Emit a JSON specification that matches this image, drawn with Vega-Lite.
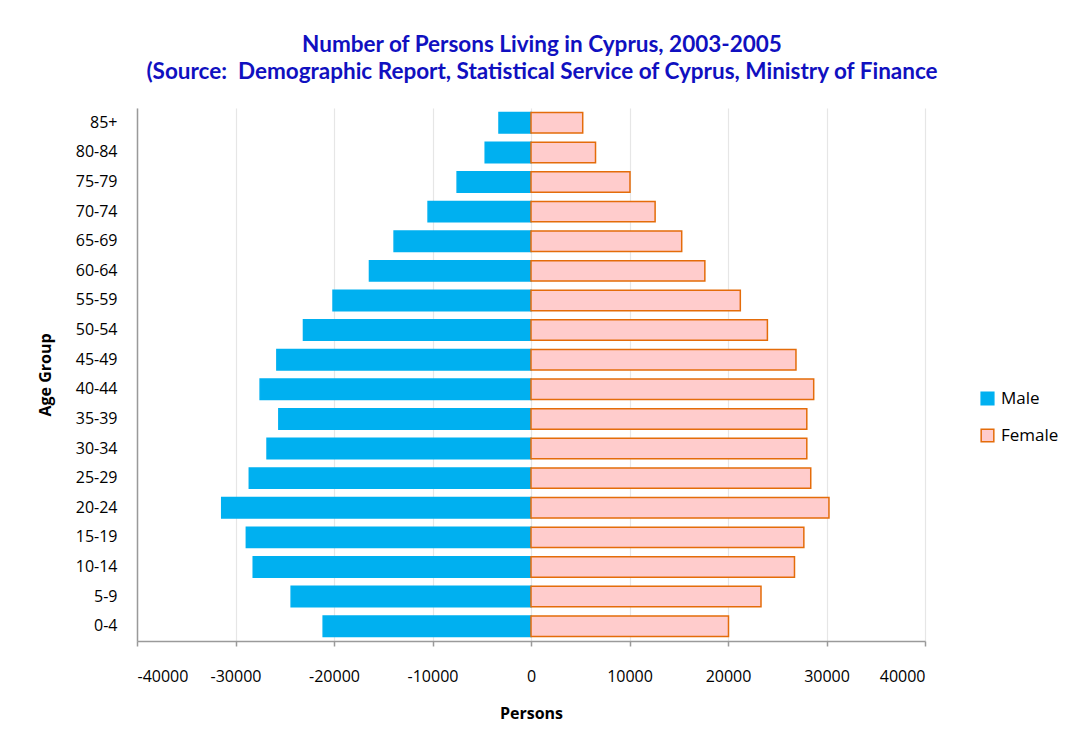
{
  "$schema": "https://vega.github.io/schema/vega-lite/v6.json",
  "autosize": {"type": "none"},
  "width": 788,
  "height": 533,
  "padding": {"left": 137, "top": 108, "right": 141, "bottom": 99},
  "background": "white",
  "title": {
    "text": ["Number of Persons Living in Cyprus, 2003-2005", "(Source:\u00a0\u00a0Demographic Report, Statistical Service of Cyprus, Ministry of Finance"],
    "font": "Lato",
    "fontSize": 22.5,
    "fontWeight": "bold",
    "color": "#1010C0",
    "anchor": "middle",
    "dx": 11,
    "lineHeight": 27,
    "offset": 25
  },
  "data": {
    "values": [
      {"age": "85+", "sex": "Male", "persons": -3250},
      {"age": "80-84", "sex": "Male", "persons": -4650},
      {"age": "75-79", "sex": "Male", "persons": -7500},
      {"age": "70-74", "sex": "Male", "persons": -10450},
      {"age": "65-69", "sex": "Male", "persons": -13900},
      {"age": "60-64", "sex": "Male", "persons": -16400},
      {"age": "55-59", "sex": "Male", "persons": -20100},
      {"age": "50-54", "sex": "Male", "persons": -23100},
      {"age": "45-49", "sex": "Male", "persons": -25800},
      {"age": "40-44", "sex": "Male", "persons": -27500},
      {"age": "35-39", "sex": "Male", "persons": -25600},
      {"age": "30-34", "sex": "Male", "persons": -26800},
      {"age": "25-29", "sex": "Male", "persons": -28600},
      {"age": "20-24", "sex": "Male", "persons": -31400},
      {"age": "15-19", "sex": "Male", "persons": -28900},
      {"age": "10-14", "sex": "Male", "persons": -28200},
      {"age": "5-9", "sex": "Male", "persons": -24350},
      {"age": "0-4", "sex": "Male", "persons": -21100},
      {"age": "85+", "sex": "Female", "persons": 5250},
      {"age": "80-84", "sex": "Female", "persons": 6550},
      {"age": "75-79", "sex": "Female", "persons": 10050},
      {"age": "70-74", "sex": "Female", "persons": 12600},
      {"age": "65-69", "sex": "Female", "persons": 15300},
      {"age": "60-64", "sex": "Female", "persons": 17650},
      {"age": "55-59", "sex": "Female", "persons": 21250},
      {"age": "50-54", "sex": "Female", "persons": 24000},
      {"age": "45-49", "sex": "Female", "persons": 26900},
      {"age": "40-44", "sex": "Female", "persons": 28700},
      {"age": "35-39", "sex": "Female", "persons": 28000},
      {"age": "30-34", "sex": "Female", "persons": 28000},
      {"age": "25-29", "sex": "Female", "persons": 28400},
      {"age": "20-24", "sex": "Female", "persons": 30250},
      {"age": "15-19", "sex": "Female", "persons": 27700},
      {"age": "10-14", "sex": "Female", "persons": 26750},
      {"age": "5-9", "sex": "Female", "persons": 23350},
      {"age": "0-4", "sex": "Female", "persons": 20050}
    ]
  },
  "mark": {"type": "bar", "strokeWidth": 1.5},
  "encoding": {
    "y": {
      "field": "age",
      "type": "nominal",
      "sort": ["85+", "80-84", "75-79", "70-74", "65-69", "60-64", "55-59", "50-54", "45-49", "40-44", "35-39", "30-34", "25-29", "20-24", "15-19", "10-14", "5-9", "0-4"],
      "scale": {"paddingInner": 0.31, "paddingOuter": 0.155},
      "axis": {
        "title": "Age Group",
        "titleFont": "Open Sans",
        "titleFontSize": 16,
        "titleFontWeight": "bold",
        "titleColor": "#000000",
        "titlePadding": 22,
        "labelFont": "Open Sans",
        "labelFontSize": 16,
        "labelColor": "#000000",
        "labelPadding": 20,
        "ticks": false,
        "domainColor": "#9a9a9a",
        "domainWidth": 1.5,
        "grid": false
      }
    },
    "x": {
      "field": "persons",
      "type": "quantitative",
      "scale": {"domain": [-40000, 40000], "nice": false},
      "axis": {
        "title": "Persons",
        "titleFont": "Open Sans",
        "titleFontSize": 16,
        "titleFontWeight": "bold",
        "titleColor": "#000000",
        "titlePadding": 21,
        "labelFont": "Open Sans",
        "labelFontSize": 16,
        "labelColor": "#000000",
        "labelPadding": 22,
        "labelExpr": "'' + datum.value",
        "values": [-40000, -30000, -20000, -10000, 0, 10000, 20000, 30000, 40000],
        "tickSize": 5,
        "tickColor": "#9a9a9a",
        "tickWidth": 1.5,
        "domainColor": "#9a9a9a",
        "domainWidth": 1.5,
        "grid": true,
        "gridColor": "#e6e6e6",
        "gridWidth": 1.2
      }
    },
    "color": {
      "field": "sex",
      "type": "nominal",
      "scale": {"domain": ["Male", "Female"], "range": ["#00B0F0", "#FFCCCC"]},
      "legend": {
        "title": null,
        "orient": "none",
        "legendX": 842,
        "legendY": 282,
        "symbolType": "square",
        "symbolSize": 160,
        "symbolStrokeWidth": 1.5,
        "labelFont": "Open Sans",
        "labelFontSize": 17,
        "labelColor": "#000000",
        "labelOffset": 5,
        "rowPadding": 18,
        "padding": 0
      }
    },
    "stroke": {
      "field": "sex",
      "type": "nominal",
      "scale": {"domain": ["Male", "Female"], "range": ["#00B0F0", "#E46C0A"]},
      "legend": null
    }
  },
  "config": {
    "view": {"stroke": null}
  }
}
